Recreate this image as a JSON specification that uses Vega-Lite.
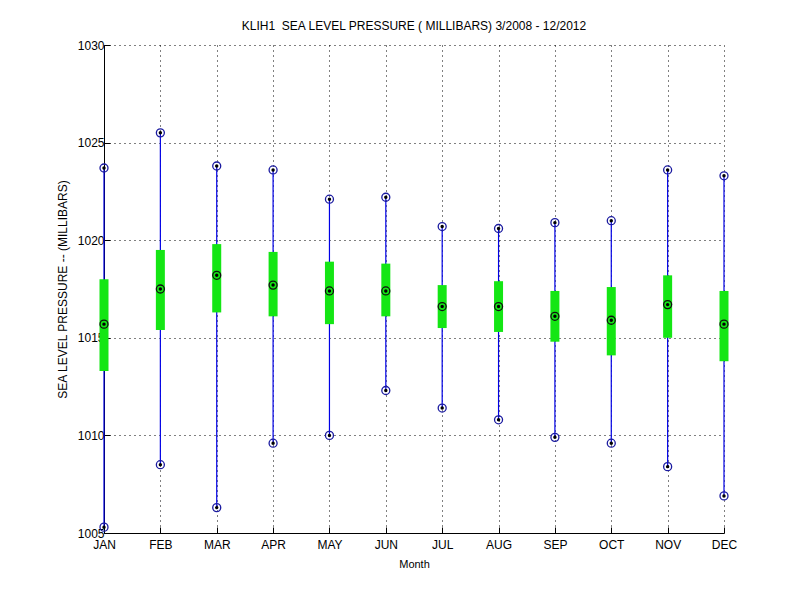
{
  "$schema": "https://vega.github.io/schema/vega-lite/v6.json",
  "autosize": {"type": "none"},
  "padding": {"left": 104, "top": 45, "right": 76, "bottom": 67},
  "width": 620,
  "height": 488,
  "background": "white",
  "config": {
    "view": {"stroke": null},
    "font": "Liberation Sans",
    "axis": {
      "labelFont": "Liberation Sans",
      "titleFont": "Liberation Sans",
      "labelColor": "black",
      "titleColor": "black",
      "labelFontSize": 12,
      "titleFontSize": 12,
      "titleFontWeight": "normal",
      "domainColor": "black",
      "tickColor": "black",
      "gridColor": "black",
      "gridOpacity": 1,
      "gridDash": [1, 4],
      "gridWidth": 1
    }
  },
  "title": {
    "text": "KLIH1 \u00a0SEA LEVEL PRESSURE ( MILLIBARS) 3/2008 - 12/2012",
    "font": "Liberation Sans",
    "fontSize": 12,
    "fontWeight": "normal",
    "color": "black",
    "offset": 6,
    "anchor": "middle"
  },
  "data": {
    "values": [
      {"month": "JAN", "min": 1005.3, "q1": 1013.3, "med": 1015.7, "q3": 1018.0, "max": 1023.7},
      {"month": "FEB", "min": 1008.5, "q1": 1015.4, "med": 1017.5, "q3": 1019.5, "max": 1025.5},
      {"month": "MAR", "min": 1006.3, "q1": 1016.3, "med": 1018.2, "q3": 1019.8, "max": 1023.8},
      {"month": "APR", "min": 1009.6, "q1": 1016.1, "med": 1017.7, "q3": 1019.4, "max": 1023.6},
      {"month": "MAY", "min": 1010.0, "q1": 1015.7, "med": 1017.4, "q3": 1018.9, "max": 1022.1},
      {"month": "JUN", "min": 1012.3, "q1": 1016.1, "med": 1017.4, "q3": 1018.8, "max": 1022.2},
      {"month": "JUL", "min": 1011.4, "q1": 1015.5, "med": 1016.6, "q3": 1017.7, "max": 1020.7},
      {"month": "AUG", "min": 1010.8, "q1": 1015.3, "med": 1016.6, "q3": 1017.9, "max": 1020.6},
      {"month": "SEP", "min": 1009.9, "q1": 1014.8, "med": 1016.1, "q3": 1017.4, "max": 1020.9},
      {"month": "OCT", "min": 1009.6, "q1": 1014.1, "med": 1015.9, "q3": 1017.6, "max": 1021.0},
      {"month": "NOV", "min": 1008.4, "q1": 1015.0, "med": 1016.7, "q3": 1018.2, "max": 1023.6},
      {"month": "DEC", "min": 1006.9, "q1": 1013.8, "med": 1015.7, "q3": 1017.4, "max": 1023.3}
    ]
  },
  "encoding": {
    "x": {
      "field": "month",
      "type": "ordinal",
      "sort": null,
      "scale": {"type": "point", "padding": 0},
      "axis": {
        "title": "Month",
        "titleFontSize": 11,
        "titlePadding": 8,
        "labelAngle": 0,
        "labelPadding": 12,
        "tickSize": -6,
        "grid": true
      }
    }
  },
  "layer": [
    {
      "mark": {"type": "rule", "color": "#0000e6", "strokeWidth": 1.2},
      "encoding": {
        "y": {
          "field": "min",
          "type": "quantitative",
          "scale": {"domain": [1005, 1030], "nice": false, "zero": false},
          "axis": {
            "title": "SEA LEVEL PRESSURE -- (MILLIBARS)",
            "values": [1005, 1010, 1015, 1020, 1025, 1030],
            "format": "d",
            "tickSize": -6,
            "labelPadding": 6,
            "titlePadding": 8,
            "grid": true
          }
        },
        "y2": {"field": "max"}
      }
    },
    {
      "mark": {"type": "bar", "color": "#14e614", "size": 9},
      "encoding": {
        "y": {"field": "q1", "type": "quantitative"},
        "y2": {"field": "q3"}
      }
    },
    {
      "mark": {"type": "point", "shape": "circle", "filled": false, "size": 64, "strokeWidth": 1.3, "color": "#101010", "opacity": 1},
      "encoding": {"y": {"field": "med", "type": "quantitative"}}
    },
    {
      "mark": {"type": "point", "shape": "circle", "filled": false, "size": 64, "strokeWidth": 1.3, "color": "#1a1aa0", "opacity": 1},
      "encoding": {"y": {"field": "max", "type": "quantitative"}}
    },
    {
      "mark": {"type": "point", "shape": "circle", "filled": false, "size": 64, "strokeWidth": 1.3, "color": "#1a1aa0", "opacity": 1},
      "encoding": {"y": {"field": "min", "type": "quantitative"}}
    },
    {
      "mark": {"type": "point", "shape": "circle", "filled": true, "size": 12, "color": "black", "opacity": 1},
      "encoding": {"y": {"field": "med", "type": "quantitative"}}
    },
    {
      "mark": {"type": "point", "shape": "circle", "filled": true, "size": 12, "color": "black", "opacity": 1},
      "encoding": {"y": {"field": "max", "type": "quantitative"}}
    },
    {
      "mark": {"type": "point", "shape": "circle", "filled": true, "size": 12, "color": "black", "opacity": 1},
      "encoding": {"y": {"field": "min", "type": "quantitative"}}
    }
  ]
}
